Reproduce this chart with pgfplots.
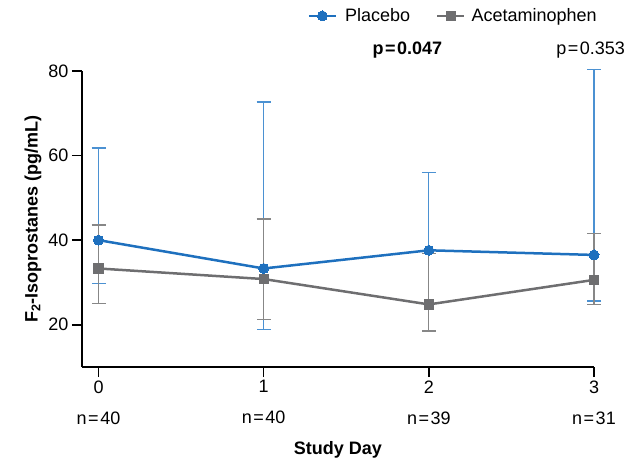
\documentclass[border=0pt]{standalone}
\usepackage{pgfplots}
\pgfplotsset{compat=1.18}
\usepackage{pgfplotstable}
\usepackage{fontspec}
\setmainfont{Liberation Sans}
\usetikzlibrary{calc}
\definecolor{pblue}{RGB}{30,112,190}
\definecolor{pblueE}{RGB}{75,145,210}
\definecolor{agray}{RGB}{110,110,112}
\definecolor{agrayE}{RGB}{135,135,135}

\pgfplotstableread{
x y ep em
0 40.0 21.8 10.2
1 33.3 39.4 14.5
2 37.6 18.4 19.1
3 36.5 43.9 10.9
}\placebo
\pgfplotstableread{
x y ep em
0 33.3 10.3 8.3
1 30.8 14.2 9.5
2 24.8 12.0 6.3
3 30.6 10.9 5.9
}\acet

\begin{document}
\begin{tikzpicture}
\begin{axis}[
  scale only axis, width=512pt, height=296pt,
  xmin=-0.1, xmax=3, ymin=10, ymax=80,
  axis lines=left,
  axis line style={-, line width=1.6pt, black},
  xtick={0,1,2,3},
  xticklabels={{0\\[11pt]n\kern1.5pt=\kern1.5pt40},{1\\[11pt]n\kern1.5pt=\kern1.5pt40},{2\\[11pt]n\kern1.5pt=\kern1.5pt39},{3\\[11pt]n\kern1.5pt=\kern1.5pt31}},
  xticklabel style={align=center, font=\fontsize{18}{20}\selectfont},
  ytick={20,40,60,80},
  yticklabel style={font=\fontsize{18}{20}\selectfont},
  /pgf/number format/assume math mode=true,
  tick align=outside, major tick length=10pt,
  tick style={black, line width=1.6pt},
  clip=false,
  xlabel={\textbf{Study Day}},
  ylabel={\textbf{F\textsubscript{2}-Isoprostanes (pg/mL)}},
  xlabel style={at={(axis description cs:0.5,-0.28)}, anchor=center, font=\fontsize{18}{20}\selectfont},
  ylabel style={at={(axis description cs:-0.0957,0.5)}, anchor=center, font=\fontsize{18}{20}\selectfont},
  legend style={at={(axis description cs:0.725,1.186)}, anchor=center, draw=none, fill=none,
    font=\fontsize{18}{20}\selectfont, legend columns=2,
    /tikz/every even column/.append style={column sep=24pt}},
  legend image code/.code={\draw[mark repeat=2,mark phase=2] plot coordinates {(0pt,0pt) (13.5pt,0pt) (27pt,0pt)};},
]
\coordinate (O) at (rel axis cs:0,0);
% error bars
\addplot[draw=none, mark=none, forget plot,
  error bars/.cd, y dir=both, y explicit,
  error bar style={draw=pblueE, line width=1.3pt},
  error mark options={rotate=90, mark size=7pt, draw=pblueE, line width=1.3pt}]
  table[x=x, y=y, y error plus=ep, y error minus=em] {\placebo};
\addplot[draw=none, mark=none, forget plot,
  error bars/.cd, y dir=both, y explicit,
  error bar style={draw=agrayE, line width=1.3pt},
  error mark options={rotate=90, mark size=7pt, draw=agrayE, line width=1.3pt}]
  table[x=x, y=y, y error plus=ep, y error minus=em] {\acet};
% lines
\addplot[pblue, line width=2.5pt, mark=*, mark size=5pt, mark options={fill=pblue, draw=pblue, line width=0pt}]
  table[x=x, y=y] {\placebo};
\addlegendentry{\hspace{6pt}Placebo}
\addplot[agray, line width=2.5pt, mark=square*, mark size=4.6pt, mark options={fill=agray, draw=agray, line width=0pt}]
  table[x=x, y=y] {\acet};
\addlegendentry{\hspace{4pt}Acetaminophen}
\node[font=\fontsize{18}{20}\selectfont\bfseries] at (axis cs:1.87,84.9) {p\kern1.5pt=\kern1.5pt0.047};
\node[font=\fontsize{18}{20}\selectfont] at (axis cs:2.98,84.9) {p\kern1.5pt=\kern1.5pt0.353};
\end{axis}
\pgfresetboundingbox
\path[use as bounding box] ($(O)+(-82pt,-94pt)$) rectangle ($(O)+(552pt,367pt)$);
\end{tikzpicture}
\end{document}
